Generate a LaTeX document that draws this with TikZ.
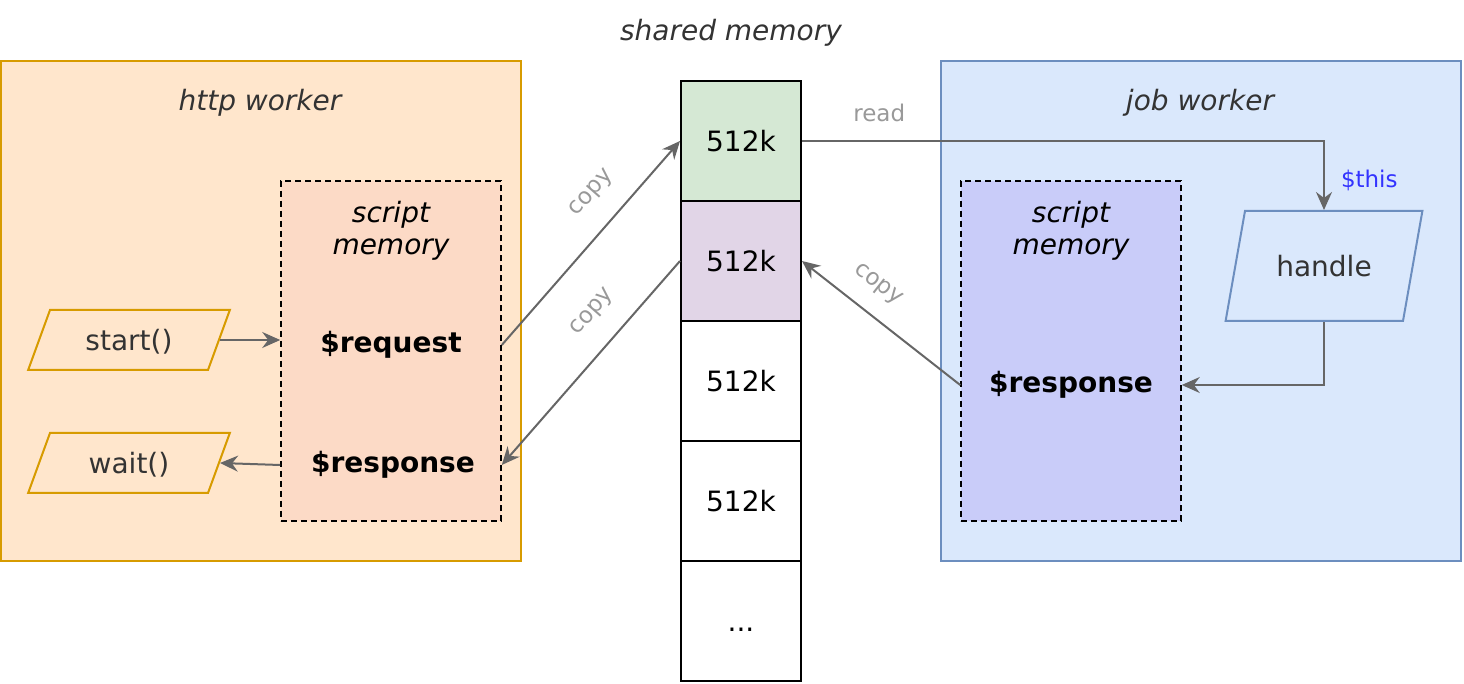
\documentclass[tikz,border=0pt]{standalone}
\usepackage{fontspec}
\setmainfont{DejaVu Sans}
\usetikzlibrary{arrows.meta, positioning, shapes.geometric}
\definecolor{httpfill}{HTML}{FFE6CC}
\definecolor{httpdraw}{HTML}{D79B00}
\definecolor{jobfill}{HTML}{DAE8FC}
\definecolor{jobdraw}{HTML}{6C8EBF}
\definecolor{smhfill}{HTML}{FCDAC6}
\definecolor{smjfill}{HTML}{C9CCF9}
\definecolor{memgreen}{HTML}{D5E8D4}
\definecolor{mempurple}{HTML}{E1D5E7}
\definecolor{txtgray}{HTML}{333333}
\definecolor{linkgray}{HTML}{666666}
\definecolor{lblgray}{HTML}{999999}
\definecolor{thisblue}{HTML}{3333FF}

\begin{document}
\begin{tikzpicture}[x=0.5pt, y=-0.5pt, font=\fontsize{14}{16}\selectfont,
  >={Stealth[length=9pt, width=8pt, inset=3pt]},
  worker/.style={draw, line width=1pt, minimum width=260pt, minimum height=250pt, inner sep=0pt},
  scrmem/.style={draw=black, dash pattern=on 3pt off 2pt, line width=0.8pt,
                 minimum width=110pt, minimum height=170pt, inner sep=0pt},
  io/.style={trapezium, draw, line width=1pt, text=txtgray, text width=79pt, align=center,
             text height=14pt, text depth=3pt, inner xsep=0pt},
  cell/.style={draw=black, line width=1pt, minimum size=60pt, inner sep=0pt,
               text height=10.2pt, text depth=0pt},
  ttl/.style={font=\fontsize{14}{16}\selectfont\itshape, text=txtgray, align=center},
  var/.style={font=\fontsize{14}{16}\selectfont\bfseries},
  link/.style={draw=linkgray, line width=1pt, ->},
  lbl/.style={font=\fontsize{11.5}{13}\selectfont, text=lblgray, inner sep=1pt}]
\useasboundingbox (0,0) rectangle (1464,684);

% http worker
\node[worker, draw=httpdraw, fill=httpfill] (hw) at (261,311) {};
\node[ttl] (hwt) at (260,103) {http worker};
\node[scrmem, fill=smhfill] (smh) at (391,351) {};
\node[ttl, text=black] (smht) at (391,231) {script\\memory};
\node[var] (req) at (391,345) {\$request};
\node[var] (resph) at (393,465) {\$response};
\node[io, draw=httpdraw, fill=httpfill, trapezium left angle=70, trapezium right angle=110,
      inner ysep=6.5pt] (start) at (129,340) {start()};
\node[io, draw=httpdraw, fill=httpfill, trapezium left angle=70, trapezium right angle=110,
      inner ysep=6.5pt] (wait) at (129,463) {wait()};

% shared memory
\node[ttl] (smt) at (731,33) {shared memory};
\foreach \i/\f in {1/memgreen, 2/mempurple, 3/white, 4/white}
  \node[cell, fill=\f] (m\i) at (741,21+120*\i) {512k};
\node[cell] (m5) at (741,621) {...};

% job worker
\node[worker, draw=jobdraw, fill=jobfill] (jw) at (1201,311) {};
\node[ttl] (jwt) at (1200,103) {job worker};
\node[scrmem, fill=smjfill] (smj) at (1071,351) {};
\node[ttl, text=black] (smjt) at (1071,231) {script\\memory};
\node[var] (respj) at (1071,385) {\$response};
\node[io, draw=jobdraw, fill=jobfill, trapezium left angle=80, trapezium right angle=100,
      inner ysep=19pt] (handle) at (1324,266) {handle};

% connectors
\draw[link] (start.east) -- (start.east -| smh.west);
\draw[link] (smh.west |- resph.center) -- (wait.east);
\draw[link] (smh.east |- req.center) -- node[lbl, pos=0.64, sloped, above=10pt] {copy} (m1.west);
\draw[link] (m2.west) -- node[lbl, pos=0.355, sloped, above=10pt] {copy} (smh.east |- resph.center);
\draw[link] (smj.west |- respj.center) -- node[lbl, pos=0.63, sloped, above=8pt] {copy} (m2.east);
\draw[link] (m1.east) -| node[lbl, pos=0.074, above=8pt] {read}
  node[lbl, pos=0.786, right=7pt, text=thisblue] {\$this} (handle.center |- handle.north);
\draw[link] (handle.center |- handle.south) |- (smj.east |- respj.center);
\end{tikzpicture}
\end{document}
